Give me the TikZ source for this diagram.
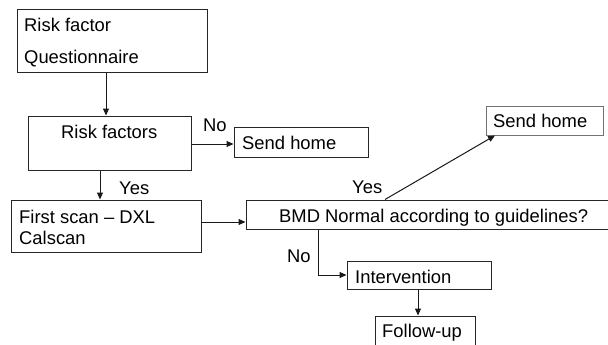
\documentclass[tikz,border=0pt]{standalone}
\usepackage{fontspec}
\setmainfont{Liberation Sans}
\usetikzlibrary{arrows.meta}
\begin{document}
\begin{tikzpicture}[x=1pt,y=-1pt,
  every node/.style={font=\fontsize{18.4}{22}\selectfont},
  box/.style={draw=black!85, line width=1pt, rectangle, inner sep=0pt},
  lbl/.style={anchor=base west, inner sep=0pt},
  arr/.style={draw=black!90, line width=1pt, -{Triangle[length=7pt,width=6pt]}},
  ln/.style={draw=black!90, line width=1pt}]
\useasboundingbox (0,0) rectangle (608,345);
\clip (0,0) rectangle (608,345);
% boxes
\node[box, minimum width=190pt, minimum height=63pt] (Q) at (112,41.5) {};
\node[box, minimum width=163pt, minimum height=54pt] (RF) at (109.5,143) {};
\node[box, minimum width=134pt, minimum height=30pt] (SH1) at (301,142) {};
\node[box, minimum width=190pt, minimum height=52pt] (FS) at (106,226) {};
\node[box, minimum width=379pt, minimum height=29pt] (BMD) at (435.5,214.5) {};
\node[box, draw=black!55, minimum width=117pt, minimum height=29pt] (SH2) at (544.5,120.5) {};
\node[box, minimum width=144pt, minimum height=28pt] (INT) at (419,275) {};
\node[box, minimum width=100pt, minimum height=48pt] (FU) at (425,340) {};
% texts
\node[lbl] (tq1) at (24,32) {Risk factor};
\node[lbl] (tq2) at (24,64) {Questionnaire};
\node[lbl] (trf) at (61,138) {Risk factors};
\node[lbl] (tsh1) at (242,149) {Send home};
\node[lbl] (tfs1) at (19,223) {First scan – DXL};
\node[lbl] (tfs2) at (19,244) {Calscan};
\node[lbl] (tbmd) at (279,222) {BMD Normal according to guidelines?};
\node[lbl] (tsh2) at (493,127) {Send home};
\node[lbl] (tint) at (355,283) {Intervention};
\node[lbl] (tfu) at (382,337) {Follow-up};
% edge labels
\node[lbl] (no1) at (203,131) {No};
\node[lbl] (yes1) at (119,194) {Yes};
\node[lbl] (yes2) at (352,193) {Yes};
\node[lbl] (no2) at (287,262) {No};
% connectors
\draw[arr] (106,0 |- Q.south) -- (106,0 |- RF.north);
\draw[arr] (RF.east |- 0,144) -- (SH1.west |- 0,144);
\draw[arr] (100,0 |- RF.south) -- (100,0 |- FS.north);
\draw[arr] (FS.east |- 0,222) -- (BMD.west |- 0,222);
\draw[arr] (385,0 |- BMD.north) -- (495,0 |- SH2.south);
\draw[arr] (318,0 |- BMD.south) |- (INT.west);
\draw[arr] (418,0 |- INT.south) -- (418,0 |- FU.north);
\end{tikzpicture}
\end{document}
